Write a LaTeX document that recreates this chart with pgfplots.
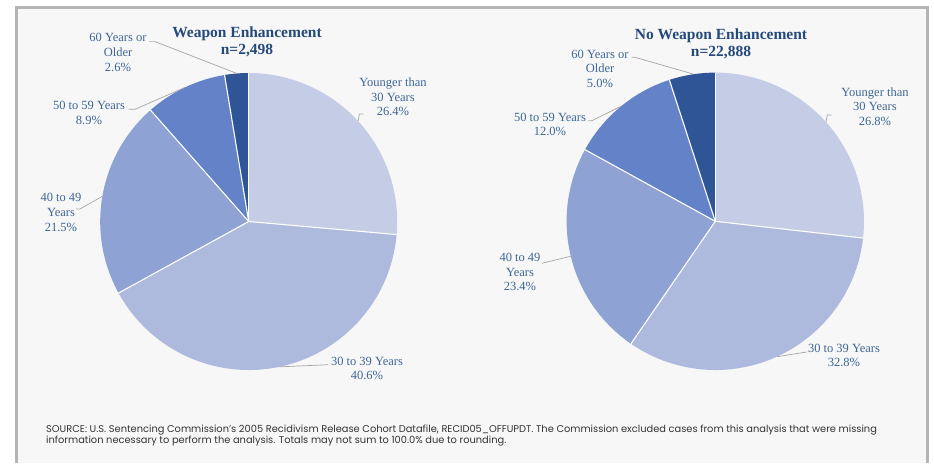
\documentclass[border=0pt]{standalone}
\usepackage{pgfplots}
\usepackage{pgfplotstable}
\pgfplotsset{compat=1.18}
\usepackage{fontspec}
\setmainfont{Liberation Serif}
\newfontfamily\srcfont{Poppins}

\definecolor{sl0}{HTML}{C5CCE6}
\definecolor{sl1}{HTML}{AEB9DE}
\definecolor{sl2}{HTML}{8FA2D4}
\definecolor{sl3}{HTML}{6482C8}
\definecolor{sl4}{HTML}{2F5596}
\definecolor{bgc}{HTML}{F7F7F7}
\definecolor{frm}{HTML}{B4B4B4}
\definecolor{lbl}{HTML}{3E6696}
\definecolor{ttl}{HTML}{24497A}
\definecolor{ldr}{HTML}{A6A6A6}
\definecolor{src}{HTML}{333333}

% Weapon Enhancement (n=2,498): share in percent, clockwise from 12 o'clock
\pgfplotstableread{
pct
26.4
40.6
21.5
8.9
2.6
}\tabA
% No Weapon Enhancement (n=22,888)
\pgfplotstableread{
pct
26.8
32.8
23.4
12.0
5.0
}\tabB

\newcommand\lblfont{\fontsize{12.5}{14.6}\selectfont}
\newcommand\ttlfont{\bfseries\fontsize{15.5}{17}\selectfont}

\begin{document}
\begin{tikzpicture}
\begin{axis}[
  scale only axis, width=934pt, height=463pt,
  xmin=0, xmax=934, ymin=0, ymax=463, y dir=reverse,
  hide axis, clip=false,
]
% background and frame
\fill[white] (axis cs:0,0) rectangle (axis cs:934,463);
\fill[bgc] (axis cs:17,8) rectangle (axis cs:927,463);
\draw[frm, line width=2.6pt] (axis cs:16.3,463) -- (axis cs:16.3,7.3) -- (axis cs:927.7,7.3) -- (axis cs:927.7,463);

% left pie
\gdef\cum{0}
\pgfplotsforeachungrouped \i in {0,...,4}{%
  \pgfplotstablegetelem{\i}{pct}\of\tabA
  \pgfmathsetmacro\a{90-3.6*\cum}%
  \pgfmathsetmacro\b{90-3.6*(\cum+\pgfplotsretval)}%
  \pgfmathsetmacro\newcum{\cum+\pgfplotsretval}%
  \xdef\cum{\newcum}%
  \edef\temp{\noexpand\fill[sl\i] (axis cs:248.7,221.5) -- ++(\a:148.5pt) arc[start angle=\a, end angle=\b, radius=148.5pt] -- cycle;}%
  \temp
}
\gdef\cum{0}
\pgfplotsforeachungrouped \i in {0,...,4}{%
  \pgfplotstablegetelem{\i}{pct}\of\tabA
  \pgfmathsetmacro\a{90-3.6*\cum}%
  \pgfmathsetmacro\newcum{\cum+\pgfplotsretval}%
  \xdef\cum{\newcum}%
  \edef\temp{\noexpand\draw[white, line width=1.1pt] (axis cs:248.7,221.5) -- ++(\a:148.5pt);}%
  \temp
}
% right pie
\gdef\cum{0}
\pgfplotsforeachungrouped \i in {0,...,4}{%
  \pgfplotstablegetelem{\i}{pct}\of\tabB
  \pgfmathsetmacro\a{90-3.6*\cum}%
  \pgfmathsetmacro\b{90-3.6*(\cum+\pgfplotsretval)}%
  \pgfmathsetmacro\newcum{\cum+\pgfplotsretval}%
  \xdef\cum{\newcum}%
  \edef\temp{\noexpand\fill[sl\i] (axis cs:715.3,221.3) -- ++(\a:148.7pt) arc[start angle=\a, end angle=\b, radius=148.7pt] -- cycle;}%
  \temp
}
\gdef\cum{0}
\pgfplotsforeachungrouped \i in {0,...,4}{%
  \pgfplotstablegetelem{\i}{pct}\of\tabB
  \pgfmathsetmacro\a{90-3.6*\cum}%
  \pgfmathsetmacro\newcum{\cum+\pgfplotsretval}%
  \xdef\cum{\newcum}%
  \edef\temp{\noexpand\draw[white, line width=1.1pt] (axis cs:715.3,221.3) -- ++(\a:148.7pt);}%
  \temp
}

% leader lines
\draw[ldr, line width=0.7pt] (axis cs:149,41.6) -- (axis cs:155,41.6) -- (axis cs:237,73.5);
\draw[ldr, line width=0.7pt] (axis cs:128.5,109.3) -- (axis cs:135,109.3) -- (axis cs:185,87.4);
\draw[ldr, line width=0.7pt] (axis cs:76,209) -- (axis cs:80,209) -- (axis cs:102,196.5);
\draw[ldr, line width=0.7pt] (axis cs:358.3,121) -- (axis cs:359.3,114) -- (axis cs:363.5,114);
\draw[ldr, line width=0.7pt] (axis cs:328.3,364.7) -- (axis cs:280,366.8);
\draw[ldr, line width=0.7pt] (axis cs:631.7,57.3) -- (axis cs:635,57.3) -- (axis cs:693,74);
\draw[ldr, line width=0.7pt] (axis cs:588.3,120.7) -- (axis cs:592,120.7) -- (axis cs:620.5,106.5);
\draw[ldr, line width=0.7pt] (axis cs:541.7,263.3) -- (axis cs:572,256);
\draw[ldr, line width=0.7pt] (axis cs:826,122) -- (axis cs:827.3,115) -- (axis cs:831.7,115);
\draw[ldr, line width=0.7pt] (axis cs:806.7,352) -- (axis cs:777,356.7);

% titles
\node[ttl, font=\ttlfont, align=center] at (axis cs:247,41.5) {Weapon Enhancement\\n=2,498};
\node[ttl, font=\ttlfont, align=center] at (axis cs:721,43.5) {No Weapon Enhancement\\n=22,888};

% labels left
\node[lbl, font=\lblfont, align=center] at (axis cs:118,52.5) {60 Years or\\Older\\2.6\%};
\node[lbl, font=\lblfont, align=center] at (axis cs:89,113) {50 to 59 Years\\8.9\%};
\node[lbl, font=\lblfont, align=center] at (axis cs:61,212.5) {40 to 49\\Years\\21.5\%};
\node[lbl, font=\lblfont, align=center] at (axis cs:393,97) {Younger than\\30 Years\\26.4\%};
\node[lbl, font=\lblfont, align=center] at (axis cs:367,368.5) {30 to 39 Years\\40.6\%};
% labels right
\node[lbl, font=\lblfont, align=center] at (axis cs:600,68.8) {60 Years or\\Older\\5.0\%};
\node[lbl, font=\lblfont, align=center] at (axis cs:550,124.5) {50 to 59 Years\\12.0\%};
\node[lbl, font=\lblfont, align=center] at (axis cs:520,272) {40 to 49\\Years\\23.4\%};
\node[lbl, font=\lblfont, align=center] at (axis cs:875,106.5) {Younger than\\30 Years\\26.8\%};
\node[lbl, font=\lblfont, align=center] at (axis cs:844,355.5) {30 to 39 Years\\32.8\%};

% source note
\node[src, anchor=west, align=left, inner sep=0pt, font=\srcfont\fontsize{9.85}{11}\selectfont] at (axis cs:46,436) {SOURCE: U.S. Sentencing Commission’s 2005 Recidivism Release Cohort Datafile, RECID05\_OFFUPDT. The Commission excluded cases from this analysis that were missing\\information necessary to perform the analysis. Totals may not sum to 100.0\% due to rounding.};
\end{axis}
\end{tikzpicture}
\end{document}
